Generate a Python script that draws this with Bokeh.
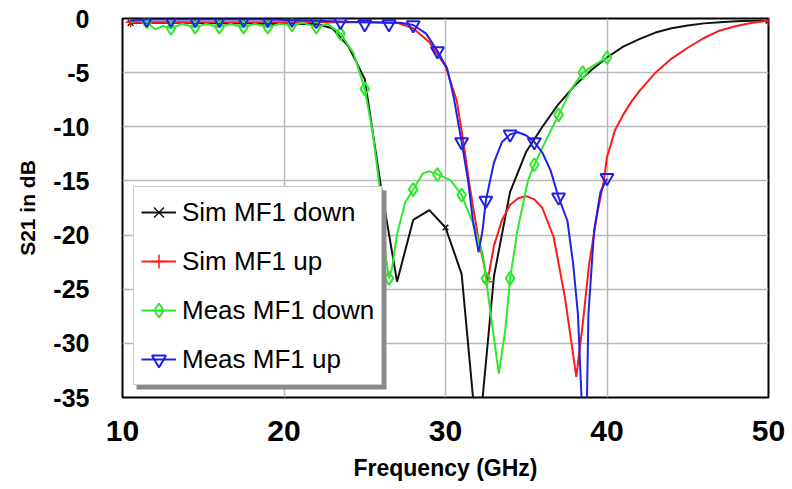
from bokeh.plotting import figure
from bokeh.models import FixedTicker, Legend, LegendItem, BoxAnnotation, Range1d
from bokeh.embed import file_html
from bokeh.resources import INLINE

# ---- data ----
sim_down_f = [10.5, 12, 14, 16, 18, 20, 21, 22, 23, 24, 25, 26, 27, 28, 29, 30, 31, 32, 33, 34, 35, 36,
              37, 38, 39, 40, 41, 42, 43, 44, 45, 46, 47, 48, 49, 50]
sim_down_db = [-0.4, -0.4, -0.4, -0.45, -0.45, -0.5, -0.5, -0.5, -0.9, -2.6, -5.6, -15.5, -24.3, -18.6,
               -17.7, -19.3, -23.6, -39.8, -23.8, -16.0, -12.3, -10.0, -7.9, -6.2, -4.8, -3.6, -2.6,
               -1.9, -1.3, -0.9, -0.65, -0.45, -0.35, -0.25, -0.2, -0.2]
sim_down_mf = [10.5, 30, 50]
sim_down_mdb = [-0.4, -19.3, -0.2]

sim_up_f = [10.5, 14, 18, 22, 25, 27, 28, 29, 30, 30.7, 31.1, 31.5, 32, 32.6, 33, 33.5, 34, 34.5, 35.0,
            35.5, 36.0, 36.7, 37.4, 38.1, 38.5, 38.9, 39.4, 39.8, 40.0, 40.5, 41, 41.5, 42, 43, 44, 45,
            46, 47, 48, 49, 50]
sim_up_db = [-0.35, -0.35, -0.35, -0.35, -0.35, -0.4, -0.9, -2.2, -4.4, -7.6, -11.3, -15.5, -20.0, -24.3,
             -21.0, -18.6, -17.2, -16.6, -16.4, -16.7, -17.5, -20.2, -25.8, -33.1, -28.2, -22.6, -18.0,
             -15.0, -12.8, -10.3, -8.9, -7.7, -6.7, -5.0, -3.7, -2.7, -1.8, -1.1, -0.7, -0.4, -0.2]
sim_up_mf = [10.5, 32.6, 50]
sim_up_mdb = [-0.35, -24.3, -0.2]

meas_down_f = [10.5, 11.0, 11.5, 12.0, 12.5, 13.0, 13.7, 14.5, 15.2, 16.0, 16.7, 17.5, 18.2, 19.0, 19.7,
               20.5, 21.2, 22.0, 22.7, 23.5, 24.3, 25.0, 25.5, 26.0, 26.3, 26.5, 26.7, 27.0, 27.5, 28.0,
               28.6, 29.0, 29.5, 30.3, 31.0, 31.7, 32.3, 32.5, 32.8, 33.3, 33.7, 34.0, 34.45, 35.1, 35.5,
               36.3, 37.0, 37.8, 38.5, 39.2, 40.0]
meas_down_db = [-0.3, -0.2, -0.3, -1.0, -0.7, -0.9, -0.5, -0.8, -0.5, -0.8, -0.5, -0.8, -0.5, -0.8, -0.5,
                -0.6, -0.4, -0.8, -0.5, -1.4, -3.2, -6.5, -10.6, -16.5, -22.0, -24.0, -23.0, -19.9, -17.0,
                -15.8, -14.3, -14.1, -14.4, -14.9, -16.3, -18.9, -21.7, -24.0, -27.3, -32.8, -28.8, -24.0,
                -19.6, -15.0, -13.5, -11.0, -8.9, -6.5, -5.0, -4.3, -3.6]
meas_down_mf = [11.5, 13.0, 14.5, 16.0, 17.5, 19.0, 20.5, 22.0, 23.5, 25.0, 26.5, 28.0, 29.5, 31.0, 32.5,
                34.0, 35.5, 37.0, 38.5, 40.0]
meas_down_mdb = [-0.3, -0.9, -0.8, -0.8, -0.8, -0.8, -0.6, -0.8, -1.4, -6.5, -24.0, -15.8, -14.4, -16.3,
                 -24.0, -24.0, -13.5, -8.9, -5.0, -3.6]

meas_up_f = [10.5, 11.5, 13, 16, 19, 22, 24, 26.5, 27.2, 28.0, 28.8, 29.5, 30.1, 30.5, 31.0, 31.4, 31.7,
             32.05, 32.3, 32.5, 33.0, 33.5, 34.0, 34.5, 35.0, 35.5, 36.0, 36.5, 37.0, 37.55, 37.9, 38.2,
             38.45, 38.75, 38.85, 39.2, 39.6, 40.0]
meas_up_db = [-0.2, -0.1, -0.1, -0.1, -0.1, -0.2, -0.3, -0.4, -0.4, -0.6, -1.4, -3.0, -4.6, -7.2, -11.4,
              -15.0, -18.7, -21.6, -19.5, -16.8, -13.3, -11.4, -10.7, -10.5, -10.8, -11.4, -12.4, -14.0,
              -16.5, -18.7, -22.6, -27.3, -36.0, -36.0, -27.3, -19.6, -16.0, -14.8]
meas_up_mf = [11.5, 13.0, 14.5, 16.0, 17.5, 19.0, 20.5, 22.0, 23.5, 25.0, 26.5, 28.0, 29.5, 31.0, 32.5,
              34.0, 35.5, 37.0, 40.0]
meas_up_mdb = [-0.1, -0.1, -0.1, -0.1, -0.1, -0.1, -0.1, -0.2, -0.3, -0.5, -0.5, -0.6, -3.0, -11.4, -16.8,
               -10.7, -11.4, -16.5, -14.7]

labels = ["Sim MF1 down", "Sim MF1 up", "Meas MF1 down", "Meas MF1 up"]
x_ticks = [10, 20, 30, 40, 50]
y_ticks = [0, -5, -10, -15, -20, -25, -30, -35]
y_tick_labels = ["0", "-5", "-10", "-15", "-20", "-25", "-30", "-35"]
x_tick_labels = ["10", "20", "30", "40", "50"]

FONT = "Liberation Sans"

p = figure(width=792, height=489, output_backend="svg", toolbar_location=None,
           x_range=Range1d(10, 50), y_range=Range1d(-35, 0),
           min_border_left=122, min_border_right=24, min_border_top=18, min_border_bottom=92)
p.background_fill_color = "white"
p.border_fill_color = "white"
p.outline_line_color = "black"
p.outline_line_width = 2

p.xaxis.ticker = FixedTicker(ticks=x_ticks)
p.yaxis.ticker = FixedTicker(ticks=y_ticks)
p.xaxis.major_label_overrides = {t: l for t, l in zip(x_ticks, x_tick_labels)}
p.yaxis.major_label_overrides = {t: l for t, l in zip(y_ticks, y_tick_labels)}
for ax in (p.xaxis, p.yaxis):
    ax.axis_line_color = None
    ax.major_tick_line_color = None
    ax.minor_tick_line_color = None
    ax.major_label_text_font = FONT
    ax.major_label_text_font_style = "bold"
    ax.major_label_text_color = "black"
    ax.axis_label_text_font = FONT
    ax.axis_label_text_font_style = "bold"
    ax.axis_label_text_color = "black"
p.xaxis.major_label_text_font_size = "30px"
p.yaxis.major_label_text_font_size = "25px"
p.xaxis.major_label_standoff = 17
p.yaxis.major_label_standoff = 27
p.xaxis.axis_label = "Frequency (GHz)"
p.yaxis.axis_label = "S21 in dB"
p.xaxis.axis_label_text_font_size = "23px"
p.yaxis.axis_label_text_font_size = "21px"
p.xaxis.axis_label_standoff = 11
p.yaxis.axis_label_standoff = 11

p.xgrid.grid_line_color = "#b8b8b8"
p.ygrid.grid_line_color = "#b8b8b8"
p.xgrid.grid_line_width = 1.5
p.ygrid.grid_line_width = 1.5

BLACK, RED, GREEN, BLUE = "#111111", "#ff1a1a", "#2ee82e", "#2020e8"

l1 = p.line(sim_down_f, sim_down_db, line_color=BLACK, line_width=2)
m1 = p.scatter(sim_down_mf, sim_down_mdb, marker="x", size=8, line_color=BLACK, line_width=1.5)
l2 = p.line(sim_up_f, sim_up_db, line_color=RED, line_width=2)
m2 = p.scatter(sim_up_mf, sim_up_mdb, marker="cross", size=10, line_color=RED, line_width=1.5)
l3 = p.line(meas_down_f, meas_down_db, line_color=GREEN, line_width=2)
m3 = p.scatter(meas_down_mf, meas_down_mdb, marker="diamond", size=13, line_color=GREEN,
               fill_color=None, line_width=2)
l4 = p.line(meas_up_f, meas_up_db, line_color=BLUE, line_width=2)
m4 = p.scatter(meas_up_mf, meas_up_mdb, marker="inverted_triangle", size=13, line_color=BLUE,
               fill_color=None, line_width=2)

shadow = BoxAnnotation(left=136, right=386, top=190, bottom=389,
                       left_units="canvas", right_units="canvas", top_units="canvas", bottom_units="canvas",
                       fill_color="#8a8a8a", fill_alpha=1.0, line_color=None)
p.add_layout(shadow)

legend = Legend(items=[LegendItem(label=labels[0], renderers=[l1, m1]),
                       LegendItem(label=labels[1], renderers=[l2, m2]),
                       LegendItem(label=labels[2], renderers=[l3, m3]),
                       LegendItem(label=labels[3], renderers=[l4, m4])],
                location=(11, 12), margin=0, padding=7, spacing=13,
                glyph_width=35, glyph_height=36, label_height=36, label_standoff=6,
                label_text_font=FONT, label_text_font_size="26px", label_text_color="black",
                border_line_color="#999999", border_line_width=1.5,
                background_fill_color="white", background_fill_alpha=1.0)
p.add_layout(legend, "center")

open("out.html", "w").write(file_html(p, INLINE))
